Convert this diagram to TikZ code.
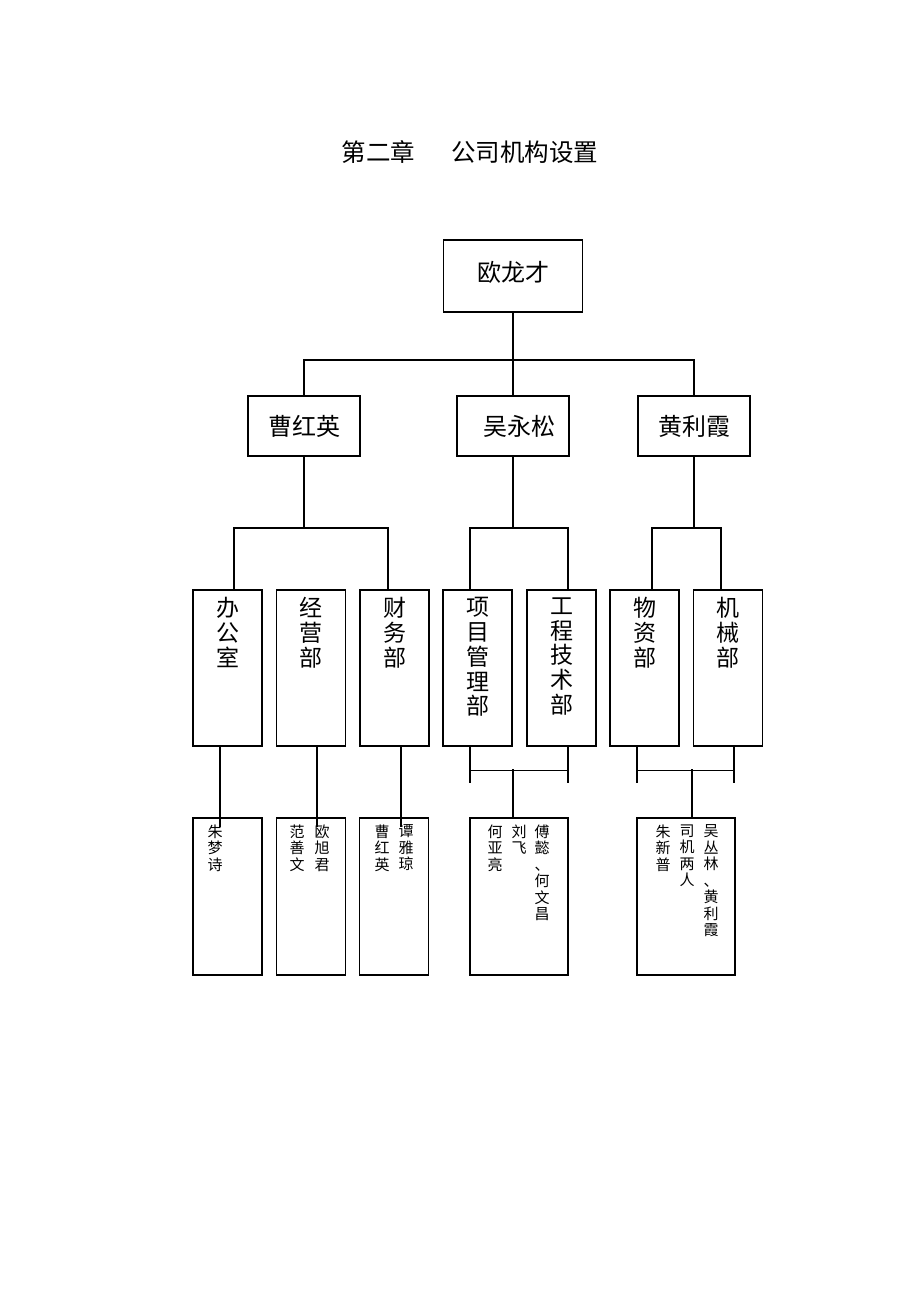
\documentclass[tikz,border=0pt]{standalone}
\usepackage{fontspec}
\setmainfont{Noto Sans CJK SC}
\usepackage{tikz}
\usetikzlibrary{positioning,calc}

\tikzset{
  link/.style={line width=1.2pt},
  boss/.style={draw, line width=1.2pt, inner sep=0pt, minimum width=139pt, minimum height=72pt, font=\fontsize{24}{24}\selectfont},
  chief/.style={draw, line width=1.2pt, inner sep=0pt, minimum width=112pt, minimum height=60pt, font=\fontsize{24}{24}\selectfont},
  dept/.style={draw, line width=1.2pt, inner sep=0pt, minimum width=69pt, minimum height=156pt},
  staff/.style={draw, line width=1.2pt, inner sep=0pt, minimum width=69pt, minimum height=157pt},
  deptname/.style={anchor=north, inner sep=0pt, align=center, font=\fontsize{23}{24.75}\selectfont},
  names/.style={anchor=north, inner sep=0pt, align=center, font=\fontsize{15}{16.5}\selectfont}
}

\begin{document}
\begin{tikzpicture}[x=1pt,y=-1pt]
        \useasboundingbox (0,0) rectangle (920,1302);

        % Title
        \node[font=\fontsize{24.5}{24.5}\selectfont] (title) at (470,152) {第二章\hspace{36pt}公司机构设置};

        % Top and second level
        \node[boss] (top) at (513,276) {\raisebox{4pt}[\height][\depth]{欧龙才}};
        \node[chief] (cao) at (304,426) {曹红英\hspace{11pt}};
        \node[chief] (wu) at (513,426) {\hspace{12pt}吴永松};
        \node[chief] (huang) at (694,426) {黄利霞\hspace{8pt}};

        % Departments
        \node[dept] (ban) at (227.5,668) {};
        \node[dept] (jing) at (311,668) {};
        \node[dept] (cai) at (394.5,668) {};
        \node[dept] (xiang) at (477.5,668) {};
        \node[dept] (gong) at (561.5,668) {};
        \node[dept] (wuzi) at (644.5,668) {};
        \node[dept] (jixie) at (728,668) {};
        \node[deptname] (ban-t) at ([yshift=-8pt]ban.north) {办\\公\\室};
        \node[deptname] (jing-t) at ([yshift=-8pt]jing.north) {经\\营\\部};
        \node[deptname] (cai-t) at ([yshift=-8pt]cai.north) {财\\务\\部};
        \node[deptname] (xiang-t) at ([yshift=-8pt]xiang.north) {项\\目\\管\\理\\部};
        \node[deptname] (gong-t) at ([yshift=-8pt]gong.north) {工\\程\\技\\术\\部};
        \node[deptname] (wuzi-t) at ([yshift=-8pt]wuzi.north) {物\\资\\部};
        \node[deptname] (jixie-t) at ([yshift=-8pt]jixie.north) {机\\械\\部};

        % Staff boxes
        \node[staff] (s1) at (227.5,896.5) {};
        \node[staff] (s2) at (311,896.5) {};
        \node[staff] (s3) at (394,896.5) {};
        \node[staff, minimum width=98pt] (s4) at (519,896.5) {};
        \node[staff, minimum width=98pt] (s5) at (686,896.5) {};
        \node[names] (s1-a) at ([xshift=-12.5pt,yshift=-7pt]s1.north) {朱\\梦\\诗};
        \node[names] (s2-a) at ([xshift=-14pt,yshift=-7pt]s2.north) {范\\善\\文};
        \node[names] (s2-b) at ([xshift=11pt,yshift=-7pt]s2.north) {欧\\旭\\君};
        \node[names] (s3-a) at ([xshift=-12pt,yshift=-7pt]s3.north) {曹\\红\\英};
        \node[names] (s3-b) at ([xshift=12pt,yshift=-7pt]s3.north) {谭\\雅\\琼};
        \node[names] (s4-a) at ([xshift=-24pt,yshift=-7pt]s4.north) {何\\亚\\亮};
        \node[names] (s4-b) at ([xshift=0pt,yshift=-7pt]s4.north) {刘\\飞};
        \node[names] (s4-c) at ([xshift=23pt,yshift=-7pt]s4.north) {傅\\懿\\、\\何\\文\\昌};
        \node[names] (s5-a) at ([xshift=-23pt,yshift=-7pt]s5.north) {朱\\新\\普};
        \node[names] (s5-b) at ([xshift=1pt,yshift=-7pt]s5.north) {司\\机\\两\\人};
        \node[names] (s5-c) at ([xshift=25pt,yshift=-7pt]s5.north) {吴\\丛\\林\\、\\黄\\利\\霞};

        % Top to second level
        \draw[link] (top.south) -- (wu.north);
        \coordinate (busA) at (top.south |- 0,360);
        \draw[link] (cao.north) |- (busA) -| (huang.north);

        % Second level to departments
        \draw[link] (cao.south) -- (cao.south |- 0,528) coordinate (busB);
        \draw[link] ([xshift=6.5pt]ban.north) |- (busB) -| ([xshift=-6.5pt]cai.north);
        \draw[link] (wu.south) -- (wu.south |- 0,528) coordinate (busC);
        \draw[link] ([xshift=-7.5pt]xiang.north) |- (busC) -| ([xshift=6.5pt]gong.north);
        \draw[link] (huang.south) -- (huang.south |- 0,528) coordinate (busD);
        \draw[link] ([xshift=7.5pt]wuzi.north) |- (busD) -| ([xshift=-7pt]jixie.north);

        % Departments to staff
        \draw[link] ([xshift=-7.5pt]ban.south) -- ([xshift=-7.5pt,yshift=-10pt]s1.north);
        \draw[link] ([xshift=6pt]jing.south) -- ([xshift=6pt,yshift=-10pt]s2.north);
        \draw[link] ([xshift=6.5pt]cai.south) -- ([xshift=7pt,yshift=-10pt]s3.north);

        % Brackets
        \draw[link] ([xshift=-7.5pt]xiang.south) -- ++(0,36);
        \draw[link] ([xshift=6.5pt]gong.south) -- ++(0,36);
        \draw[link] ([xshift=-7.5pt,yshift=-24pt]xiang.south) -- ([xshift=6.5pt,yshift=-24pt]gong.south);
        \draw[link] ([xshift=-6pt]s4.north) -- ++(0,-48);
        \draw[link] ([xshift=-7.5pt]wuzi.south) -- ++(0,36);
        \draw[link] ([xshift=6pt]jixie.south) -- ++(0,36);
        \draw[link] ([xshift=-7.5pt,yshift=-24pt]wuzi.south) -- ([xshift=6pt,yshift=-24pt]jixie.south);
        \draw[link] ([xshift=6pt]s5.north) -- ++(0,-48);
    \end{tikzpicture}
\end{document}
